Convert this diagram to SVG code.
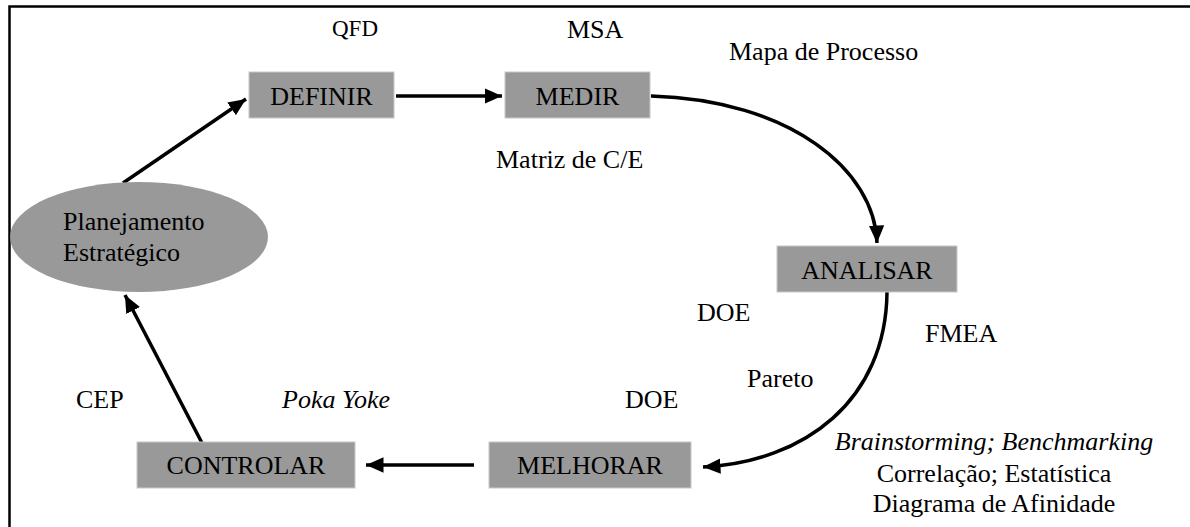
<svg xmlns="http://www.w3.org/2000/svg" width="1190" height="527" viewBox="0 0 1190 527">
<style>
text{font-family:"Liberation Serif",Tinos,"Times New Roman",Times,"DejaVu Serif",serif;font-size:26px;fill:#000}
.box{fill:#999;stroke:#c8c8c8;stroke-width:1}
.c{fill:none;stroke:#000;stroke-width:3.5}
.i{font-style:italic}
</style>
<defs>
<marker id="ah" markerWidth="5" markerHeight="4.4" refX="5" refY="2.2" orient="auto" markerUnits="strokeWidth">
<path d="M0,0 L5,2.2 L0,4.4 Z" fill="#000"/>
</marker>
</defs>
<rect x="9.5" y="6.5" width="1300" height="700" fill="none" stroke="#000" stroke-width="2.5"/>
<g id="connectors">
<path class="c" d="M123,183 L246,99" marker-end="url(#ah)"/>
<path class="c" d="M396,96 L502,96" marker-end="url(#ah)"/>
<path class="c" d="M651,96 C790,100 875,170 877,243" marker-end="url(#ah)"/>
<path class="c" d="M887,292 C886,400 805,462 703,467" marker-end="url(#ah)"/>
<path class="c" d="M474,465 L366,465" marker-end="url(#ah)"/>
<path class="c" d="M202,443 L125,295" marker-end="url(#ah)"/>
</g>
<g id="planejamento">
<ellipse cx="139" cy="237" rx="129" ry="55" fill="#999"/>
<text x="63" y="230">Planejamento</text>
<text x="63" y="261">Estratégico</text>
</g>
<g id="definir">
<rect class="box" x="249" y="72" width="145" height="46"/>
<text x="321.5" y="105" text-anchor="middle">DEFINIR</text>
</g>
<g id="medir">
<rect class="box" x="505" y="72" width="145" height="46"/>
<text x="577.5" y="105" text-anchor="middle">MEDIR</text>
</g>
<g id="analisar">
<rect class="box" x="777" y="246" width="180" height="46"/>
<text x="867" y="279" text-anchor="middle">ANALISAR</text>
</g>
<g id="melhorar">
<rect class="box" x="489" y="442" width="202" height="46"/>
<text x="590" y="474" text-anchor="middle">MELHORAR</text>
</g>
<g id="controlar">
<rect class="box" x="137" y="442" width="218" height="46"/>
<text x="246" y="474" text-anchor="middle">CONTROLAR</text>
</g>
<g id="labels">
<text x="332" y="36" style="font-size:23px">QFD</text>
<text x="567" y="38">MSA</text>
<text x="729" y="60">Mapa de Processo</text>
<text x="496" y="168">Matriz de C/E</text>
<text x="697" y="321">DOE</text>
<text x="925" y="342">FMEA</text>
<text x="747" y="387">Pareto</text>
<text x="625" y="408">DOE</text>
<text x="76" y="408">CEP</text>
<text x="282" y="408" class="i">Poka Yoke</text>
<text x="994" y="450" text-anchor="middle" class="i">Brainstorming; Benchmarking</text>
<text x="994" y="482" text-anchor="middle">Correlação; Estatística</text>
<text x="994" y="512" text-anchor="middle">Diagrama de Afinidade</text>
</g>
</svg>
